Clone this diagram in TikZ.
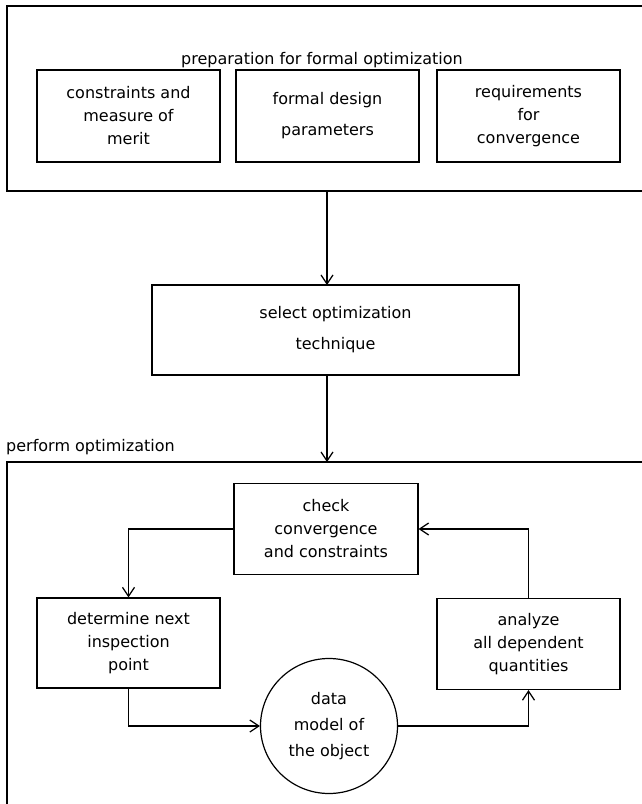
\documentclass[tikz,border=0pt]{standalone}
\usepackage{fontspec}
\setmainfont{DejaVu Sans}
\usetikzlibrary{arrows.meta,shapes.geometric}
\begin{document}
\begin{tikzpicture}[x=1pt,y=-1pt,
  every node/.style={font=\fontsize{16}{23}\selectfont, align=center, inner sep=0pt},
  box/.style={draw, line width=1.2pt, minimum width=183pt, minimum height=92pt},
  wide/.style={font=\fontsize{16}{31}\selectfont},
  frame/.style={line width=1.2pt},
  flow/.style={line width=1.2pt, -{Straight Barb[length=9pt,width=12pt,line width=1.2pt]}},
]
\useasboundingbox (0,0) rectangle (641,804);

% preparation stage
\draw[frame] (643,6) -- (7,6) -- (7,191) -- (643,191);
\coordinate (prepbot) at (327,191);
\node (preplabel) at (322,60) {preparation for formal optimization};
\node[box] (merit) at (128.5,116) {constraints and\\measure of\\merit};
\node[box, wide] (params) at (327.5,116) {formal design\\parameters};
\node[box] (conv) at (528.5,116) {requirements\\for\\convergence};

% technique selection
\node[box, wide, minimum width=367pt, minimum height=90pt] (select) at (335.5,330) {select optimization\\technique};
\coordinate (selin) at (327,285);
\coordinate (selout) at (327,375);
\coordinate (perftop) at (327,462);

% optimization loop
\node[anchor=west] (perflabel) at (6,447) {perform optimization};
\draw[frame] (7,810) -- (7,462) -- (643,462);

\node[box, minimum width=184pt, minimum height=91pt] (check) at (326,529) {check\\convergence\\and constraints};
\node[box, minimum height=90pt] (next) at (128.5,643) {determine next\\inspection\\point};
\node[box, minimum height=91pt] (analyze) at (528.5,644) {analyze\\all dependent\\quantities};
\node[draw, line width=1.2pt, ellipse, minimum width=137pt, minimum height=135pt,
      font=\fontsize{16}{26}\selectfont] (model) at (329,726) {data\\model of\\the object};

% connectors
\draw[flow] (prepbot) -- (selin);
\draw[flow] (selout) -- (perftop);
\draw[flow] (check.west) -| (next.north);
\draw[flow] (next.south) |- (model.west);
\draw[flow] (model.east) -| (analyze.south);
\draw[flow] (analyze.north) |- (check.east);
\end{tikzpicture}
\end{document}
